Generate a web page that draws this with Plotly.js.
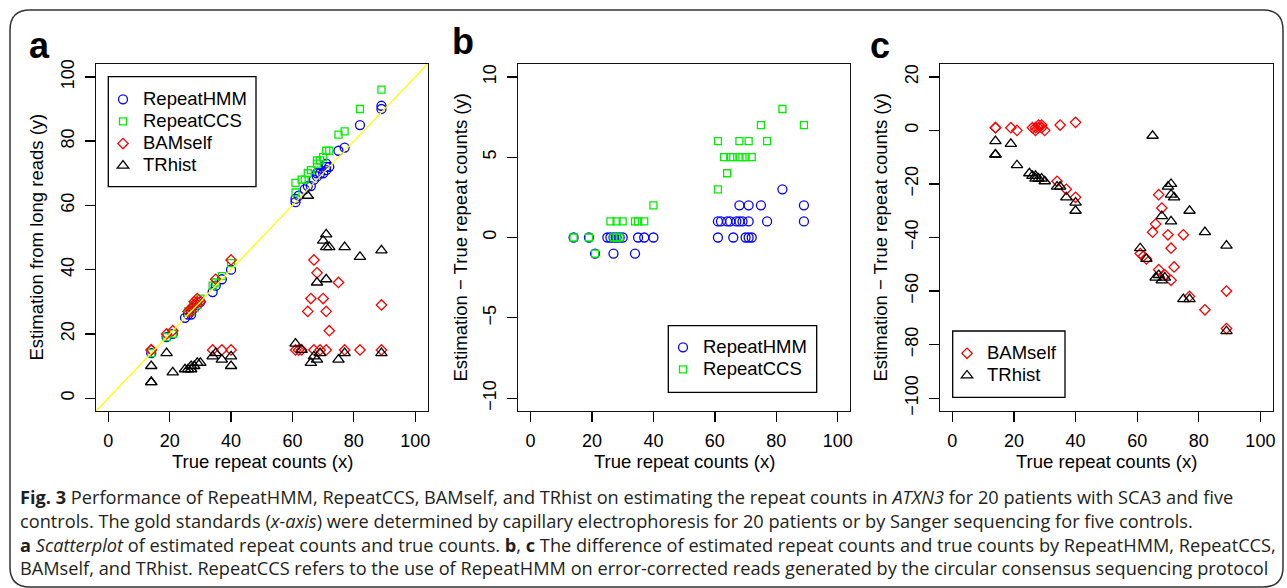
<!DOCTYPE html>
<html><head><meta charset="utf-8">
<script src="https://cdn.plot.ly/plotly-3.0.1.min.js"></script>
<style>html,body{margin:0;padding:0;background:#fff}#chart{width:1287px;height:588px}</style>
</head><body><div id="chart"></div>
<script>
// ---------------- data (true repeat counts x, estimates y) ----------------
const hmmX   = [14,19,21,25,26,27,27,28,29,30,34,35,37,40, 61,61,62,64,65,66,67,68,68,69,70,71,71,71,72,75,77,82,89,89];
const hmmEst = [14,19,20,25,26,27,26,28,29,30,33,35,37,40, 61,62,63,65,66,66,68,70,69,70,70,72,73,71,72,77,78,85,90,91];

const ccsX   = [14,19,21,26,27,28,28,29,30,34,35,37,40, 61,61,63,64,65,66,68,68,69,70,71,72,75,77,82,89];
const ccsEst = [14,19,20,27,27,28,29,29,31,35,36,38,42, 64,67,68,68,70,71,73,74,74,75,77,77,82,83,90,96];

const bamX   = [14,14,19,21,26,27,27,28,28,29,29,30,35,40,34,37,40, 61,62,63,67,68,66,65,70,75,71,72,67,69,71,77,82,89,89];
const bamEst = [15,15,20,21,27,28,27,30,29,30,31,30,37,43,15,15,15, 15,15,15,43,39,31,27,31,36,27,21,15,15,15,15,15,29,15];

const trX    = [14,14,14,19,21,25,26,27,27,28,29,30,34,35,37,40,40, 65,70,71,71,72,77,68,71,82,89,61,63,66,67,68,69,75,77,89];
const trEst  = [10, 5, 5,14, 8, 9, 9,10, 9,10,11,11,13,14,12,13,10, 63,49,51,47,47,47,36,37,44,46,17,15,11,13,12,14,12,14,14];

const methodNames = ['RepeatHMM','RepeatCCS','BAMself','TRhist'];
const xTicks  = [0,20,40,60,80,100];
const yTicksA = [0,20,40,60,80,100];
const yTicksB = [-10,-5,0,5,10];
const yTicksC = [-100,-80,-60,-40,-20,0,20];
const rangeX  = [-4,104];
const rangeYA = [-4,104];
const rangeYB = [-10.8,10.8];
const rangeYC = [-104.8,24.8];
const xTitle = 'True repeat counts (x)';
const yTitleA = 'Estimation from long reads (y)';
const yTitleBC = 'Estimation \u2212 True repeat counts (y)';
const captionLines = [
 '<b>Fig. 3</b> Performance of RepeatHMM, RepeatCCS, BAMself, and TRhist on estimating the repeat counts in <i>ATXN3</i> for 20 patients with SCA3 and five',
 'controls. The gold standards (<i>x-axis</i>) were determined by capillary electrophoresis for 20 patients or by Sanger sequencing for five controls.',
 '<b>a</b> <i>Scatterplot</i> of estimated repeat counts and true counts. <b>b</b>, <b>c</b> The difference of estimated repeat counts and true counts by RepeatHMM, RepeatCCS,',
 'BAMself, and TRhist. RepeatCCS refers to the use of RepeatHMM on error-corrected reads generated by the circular consensus sequencing protocol'
];

// ---------------- styling ----------------
const W = 1287, H = 588;
const px = v => v / W, py = v => 1 - v / H;
const FONT = 'Liberation Sans, Arial, sans-serif';
const CAPFONT = 'Open Sans, Lato, sans-serif';
const FS = 18;
const LEGFS = 18.5;
const LW = 1.3;
const styles = [
  {symbol:'circle-open',      color:'#0000ff', size:9},
  {symbol:'square-open',      color:'#00ee00', size:7},
  {symbol:'diamond-open',     color:'#ff0000', size:8},
  {symbol:'triangle-up-open', color:'#000000', size:10}
];
const diff = (xs, ys) => ys.map((y, i) => y - xs[i]);
const legName = k => '<span style="font-size:' + LEGFS + 'px">' + methodNames[k] + '</span>';

function trace(k, xs, ys, axn, legend) {
  const s = styles[k];
  return {
    type:'scatter', mode:'markers', name:legName(k),
    x:xs, y:ys, xaxis:'x'+axn, yaxis:'y'+axn,
    legend:legend, showlegend:true, hoverinfo:'skip',
    marker:{symbol:s.symbol, size:s.size, color:s.color, line:{color:s.color, width:LW}}
  };
}
const data = [
  trace(0, hmmX, hmmEst, '', 'legend'),
  trace(1, ccsX, ccsEst, '', 'legend'),
  trace(2, bamX, bamEst, '', 'legend'),
  trace(3, trX,  trEst,  '', 'legend'),
  trace(0, hmmX, diff(hmmX, hmmEst), '2', 'legend2'),
  trace(1, ccsX, diff(ccsX, ccsEst), '2', 'legend2'),
  trace(2, bamX, diff(bamX, bamEst), '3', 'legend3'),
  trace(3, trX,  diff(trX, trEst),   '3', 'legend3')
];

const yDom = [py(411), py(64)];
function xa(dom, anchor) {
  return {domain:dom, anchor:anchor, range:rangeX, tickmode:'array', tickvals:xTicks,
    ticks:'outside', ticklen:10, tickwidth:LW, tickcolor:'#000', ticklabelstandoff:3,
    showline:true, mirror:true, linecolor:'#111', linewidth:LW,
    showgrid:false, zeroline:false, tickfont:{family:FONT, size:FS, color:'#000'}};
}
function ya(range, ticks, anchor) {
  return {domain:yDom, anchor:anchor, range:range, tickmode:'array', tickvals:ticks,
    ticks:'outside', ticklen:10, tickwidth:LW, tickcolor:'#000', tickangle:-90, ticklabelstandoff:4,
    showline:true, mirror:true, linecolor:'#111', linewidth:LW,
    showgrid:false, zeroline:false, tickfont:{family:FONT, size:FS, color:'#000'}};
}
// legend: item spacing follows font.size (14.7 -> ~22px rows), text drawn at LEGFS via span
function legendAt(x, firstRowY) {
  return {x:px(x), y:py(firstRowY - 16), xanchor:'left', yanchor:'top', bgcolor:'rgba(0,0,0,0)',
    borderwidth:0, font:{family:FONT, size:14.7, color:'#000'},
    itemwidth:30, tracegroupgap:0};
}
const boxes = [[108.3, 76.7, 256, 186.7], [668.3, 325.7, 816.7, 392.3], [952.7, 331, 1065, 397.3]];

const ann = [];
function txt(t, x, y, size, opts) {
  ann.push(Object.assign({text:t, x:px(x), y:py(y), xref:'paper', yref:'paper',
    showarrow:false, xanchor:'center', yanchor:'middle',
    font:{family:FONT, size:size, color:'#000'}}, opts||{}));
}
txt('<b>a</b>', 39, 45, 36);
txt('<b>b</b>', 463, 42, 36);
txt('<b>c</b>', 880, 45, 36);
txt(xTitle, 262, 461, 18.5);
txt(xTitle, 684, 461, 18.5);
txt(xTitle, 1106, 461, 18.5);
txt(yTitleA, 36, 237.5, 18.5, {textangle:-90});
txt(yTitleBC, 460, 237.5, 18.5, {textangle:-90});
txt(yTitleBC, 880, 237.5, 18.5, {textangle:-90});
const capY = [497, 521, 545, 568];
const CAPFS = 18.2;
captionLines.forEach((t, i) => txt(t, 18, capY[i], CAPFS,
  {xanchor:'left', align:'left', font:{family:CAPFONT, size:CAPFS, color:'#231f20'}}));

// rounded frame
const fx0 = 10, fy0 = 10, fx1 = 1283, fy1 = 587, r = 20;
const P = (x, y) => px(x).toFixed(5) + ',' + py(y).toFixed(5);
const framePath = 'M' + P(fx0 + r, fy0) + ' L' + P(fx1 - r, fy0) + ' Q' + P(fx1, fy0) + ' ' + P(fx1, fy0 + r) +
  ' L' + P(fx1, fy1 - r) + ' Q' + P(fx1, fy1) + ' ' + P(fx1 - r, fy1) + ' L' + P(fx0 + r, fy1) +
  ' Q' + P(fx0, fy1) + ' ' + P(fx0, fy1 - r) + ' L' + P(fx0, fy0 + r) + ' Q' + P(fx0, fy0) + ' ' + P(fx0 + r, fy0) + ' Z';

const shapes = [
  {type:'line', xref:'x', yref:'y', x0:rangeX[0], y0:rangeYA[0], x1:rangeX[1], y1:rangeYA[1],
   line:{color:'#ffff00', width:LW}},
  {type:'path', xref:'paper', yref:'paper', path:framePath, line:{color:'#333', width:1.5}, layer:'below'}
];
boxes.forEach(b => shapes.push({type:'rect', xref:'paper', yref:'paper',
  x0:px(b[0]), x1:px(b[2]), y0:py(b[3]), y1:py(b[1]),
  fillcolor:'#fff', line:{color:'#000', width:LW}, layer:'above'}));

const layout = {
  width:W, height:H, margin:{l:0, r:0, t:0, b:0}, paper_bgcolor:'#fff', plot_bgcolor:'#fff',
  showlegend:true,
  xaxis:xa([px(96), px(427.5)], 'y'),   yaxis:ya(rangeYA, yTicksA, 'x'),
  xaxis2:xa([px(518.3), px(850)], 'y2'), yaxis2:ya(rangeYB, yTicksB, 'x2'),
  xaxis3:xa([px(940), px(1272.7)], 'y3'), yaxis3:ya(rangeYC, yTicksC, 'x3'),
  legend:legendAt(103, 99.3), legend2:legendAt(663, 347.3), legend3:legendAt(947, 353.3),
  annotations:ann,
  shapes:shapes
};
Plotly.newPlot('chart', data, layout, {staticPlot:true, displayModeBar:false});
</script></body></html>
